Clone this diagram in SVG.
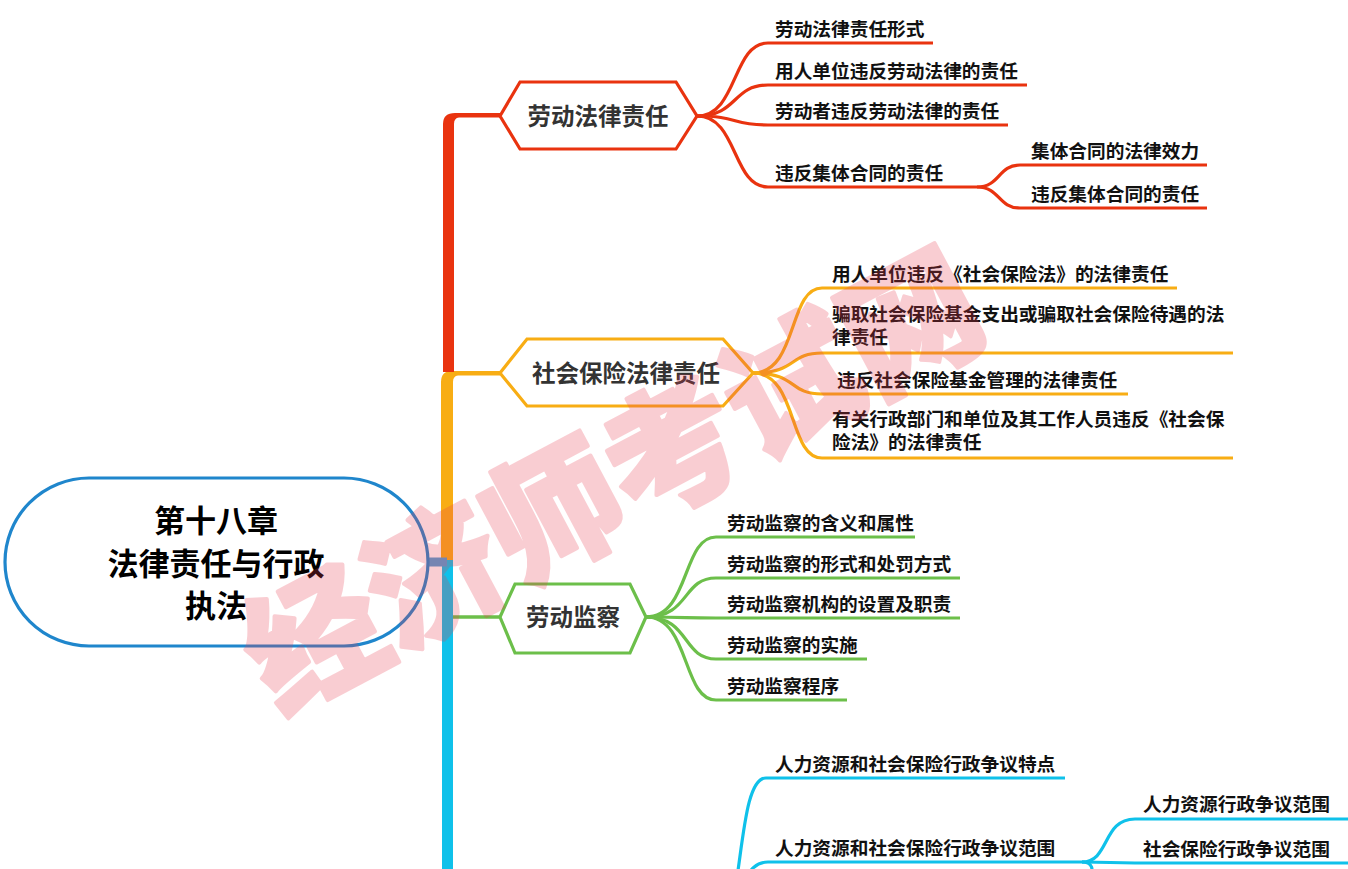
<svg xmlns="http://www.w3.org/2000/svg" width="1348" height="869" viewBox="0 0 1348 869">
<style>
text{font-family:"Noto Sans CJK SC","Microsoft YaHei",sans-serif;font-weight:bold}
.leaf{font-size:18.7px;fill:#111}
.hex{font-size:23.5px;fill:#333;text-anchor:middle}
.root{font-size:31px;fill:#000;text-anchor:middle}
.ln{fill:none;stroke-width:3.2;stroke-linecap:butt}
.red{stroke:#e9330f}.org{stroke:#f8ad14}.grn{stroke:#6cbf4a}.cyn{stroke:#0fc1ea}
.hx{fill:#fff;stroke-width:3.2;stroke-linejoin:miter}
.wm{font-size:135px;fill:#eb3c50;stroke:#eb3c50;stroke-width:4;stroke-linejoin:round;opacity:0.25;font-weight:900;text-anchor:middle}
</style>
<rect width="1348" height="869" fill="#fff"/>
<g id="connectors">
  <path d="M442,869 V556 H453 V869 Z" fill="#0fc1ea"/>
  <path d="M441,560 V382 Q441,371 452,371 H500 V375.5 H458 Q453,376 453,382 V560 Z" fill="#f8ad14"/>
  <path d="M443,372 V124 Q443,113 455,113 H500 V117.5 H459 Q454,118 454,124 V372 Z" fill="#e9330f"/>
  <path d="M426,562 H447" stroke="#4f9fd4" stroke-width="9" fill="none"/>
  <path d="M453,617 H500" stroke="#6cbf4a" stroke-width="3.6" fill="none"/>
  <path class="ln red" d="M697,116 C738,116 732,43 768,43 H933"/>
  <path class="ln red" d="M697,116 C738,116 732,85 768,85 H1027"/>
  <path class="ln red" d="M697,116 C738,116 732,125 768,125 H1008"/>
  <path class="ln red" d="M697,116 C738,116 732,187 768,187 H977"/>
  <path class="ln red" d="M977,187 C1000,187 998,165 1020,165 H1207"/>
  <path class="ln red" d="M977,187 C1000,187 998,208 1020,208 H1207"/>
  <path class="ln org" d="M753,373 C798,373 788,288 822,288 H1177"/>
  <path class="ln org" d="M753,373 C798,373 788,353 822,353 H1233"/>
  <path class="ln org" d="M753,373 C798,373 788,394 822,394 H1128"/>
  <path class="ln org" d="M753,373 C798,373 788,458 822,458 H1233"/>
  <path class="ln grn" d="M646,617 C690,617 682,537 716,537 H915"/>
  <path class="ln grn" d="M646,617 C690,617 682,578 716,578 H960"/>
  <path class="ln grn" d="M646,617 C690,617 682,618 716,618 H960"/>
  <path class="ln grn" d="M646,617 C690,617 682,659 716,659 H867"/>
  <path class="ln grn" d="M646,617 C690,617 682,700 716,700 H847"/>
  <path class="ln cyn" d="M700,960 C748,960 732,778 766,778 H1065"/>
  <path class="ln cyn" d="M700,905 C748,905 740,862 768,862 H1082"/>
  <path class="ln cyn" d="M1082,862 C1110,862 1102,819 1135,819 H1348"/>
  <path class="ln cyn" d="M1082,862 C1110,862 1110,863 1135,863 H1348"/>
  <path class="ln cyn" d="M1082,862 C1100,862 1088,880 1092,905"/>
</g>
<g id="root">
  <rect x="5" y="478" width="423" height="168" rx="84" fill="#fff" stroke="#1f86cc" stroke-width="3.2"/>
  <text class="root" x="216" y="532">第十八章</text>
  <text class="root" x="216" y="575">法律责任与行政</text>
  <text class="root" x="216" y="617">执法</text>
</g>
<g id="n1">
  <polygon class="hx" stroke="#e9330f" points="500,116 520,82 676,82 697,116 676,149 520,149"/>
  <text class="hex" x="598" y="124.5">劳动法律责任</text>
</g>
<g id="n1a"><text class="leaf" x="775" y="36">劳动法律责任形式</text></g>
<g id="n1b"><text class="leaf" x="775" y="78">用人单位违反劳动法律的责任</text></g>
<g id="n1c"><text class="leaf" x="775" y="118">劳动者违反劳动法律的责任</text></g>
<g id="n1d"><text class="leaf" x="775" y="180">违反集体合同的责任</text></g>
<g id="n1d1"><text class="leaf" x="1031" y="158">集体合同的法律效力</text></g>
<g id="n1d2"><text class="leaf" x="1031" y="201">违反集体合同的责任</text></g>
<g id="n2">
  <polygon class="hx" stroke="#f8ad14" points="500,373 527,339 723,339 753,373 723,406 527,406"/>
  <text class="hex" x="626" y="382">社会保险法律责任</text>
</g>
<g id="n2a"><text class="leaf" x="832" y="281">用人单位违反《社会保险法》的法律责任</text></g>
<g id="n2b"><text class="leaf" x="832" y="321">骗取社会保险基金支出或骗取社会保险待遇的法<tspan x="832" dy="22.5">律责任</tspan></text></g>
<g id="n2c"><text class="leaf" x="837" y="387">违反社会保险基金管理的法律责任</text></g>
<g id="n2d"><text class="leaf" x="832" y="426">有关行政部门和单位及其工作人员违反《社会保<tspan x="832" dy="22.5">险法》的法律责任</tspan></text></g>
<g id="n3">
  <polygon class="hx" stroke="#6cbf4a" points="500,617 515,584 630,584 646,617 630,653 515,653"/>
  <text class="hex" x="573" y="626">劳动监察</text>
</g>
<g id="n3a"><text class="leaf" x="727" y="530">劳动监察的含义和属性</text></g>
<g id="n3b"><text class="leaf" x="727" y="571">劳动监察的形式和处罚方式</text></g>
<g id="n3c"><text class="leaf" x="727" y="611">劳动监察机构的设置及职责</text></g>
<g id="n3d"><text class="leaf" x="727" y="652">劳动监察的实施</text></g>
<g id="n3e"><text class="leaf" x="727" y="693">劳动监察程序</text></g>
<g id="n4a"><text class="leaf" x="775" y="771">人力资源和社会保险行政争议特点</text></g>
<g id="n4b"><text class="leaf" x="775" y="855">人力资源和社会保险行政争议范围</text></g>
<g id="n4b1"><text class="leaf" x="1143" y="811">人力资源行政争议范围</text></g>
<g id="n4b2"><text class="leaf" x="1143" y="856">社会保险行政争议范围</text></g>
<g id="watermark">
  <text class="wm" x="614" y="530" transform="rotate(-28 614 483)">经济师考试网</text>
</g>
</svg>
